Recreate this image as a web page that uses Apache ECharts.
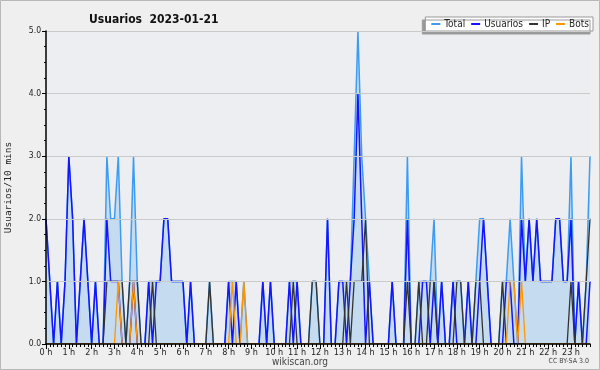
<!DOCTYPE html>
<html><head><meta charset="utf-8">
<script src="https://cdn.jsdelivr.net/npm/echarts@6/dist/echarts.min.js"></script>
<style>html,body{margin:0;padding:0;background:#efefef}#c{width:600px;height:370px}</style>
</head><body><div id="c"></div>
<script>
const hourLabels = ['0 h','1 h','2 h','3 h','4 h','5 h','6 h','7 h','8 h','9 h','10 h','11 h','12 h','13 h','14 h','15 h','16 h','17 h','18 h','19 h','20 h','21 h','22 h','23 h'];
const yTicks = [0, 1, 2, 3, 4, 5];
const total = [
 2,1,0,1,0,1,3,2,0,1, 2,1,0,1,0,0,3,2,2,3, 1,0,1,3,1,0,0,1,1,1, 1,2,2,1,1,1,1,0,1,0,
 0,0,0,1,0,0,0,0,1,1, 1,0,1,0,0,0,0,1,0,1, 0,0,0,0,1,1,1,0,0,0, 1,1,0,0,2,0,0,1,1,1,
 1,3,5,3,2,1,0,0,0,0, 0,1,0,0,0,3,0,0,1,1, 1,1,2,0,1,0,0,1,1,1, 0,1,0,1,2,2,1,0,0,0,
 1,1,2,1,0,3,1,2,1,2, 1,1,1,1,2,2,1,1,3,0, 1,0,1,3];
const usuarios = [
 2,1,0,1,0,1,3,2,0,1, 2,1,0,1,0,0,2,1,1,1, 0,0,0,1,0,0,0,1,0,1, 1,2,2,1,1,1,1,0,1,0,
 0,0,0,0,0,0,0,0,1,0, 1,0,0,0,0,0,0,1,0,1, 0,0,0,0,1,0,1,0,0,0, 0,0,0,0,2,0,0,1,1,0,
 1,2,4,2,0,1,0,0,0,0, 0,1,0,0,0,2,0,0,0,1, 1,0,1,0,1,0,0,1,0,0, 0,1,0,0,1,2,1,0,0,0,
 0,1,1,0,0,2,1,2,1,2, 1,1,1,1,2,2,1,1,2,0, 1,0,0,1];
const ip = [
 0,0,0,0,0,0,0,0,0,0, 0,0,0,0,0,0,1,1,1,1, 1,0,1,1,1,0,0,0,1,0, 0,0,0,0,0,0,0,0,0,0,
 0,0,0,1,0,0,0,0,0,0, 0,0,0,0,0,0,0,0,0,0, 0,0,0,0,0,1,0,0,0,0, 1,1,0,0,0,0,0,0,0,1,
 0,1,1,1,2,0,0,0,0,0, 0,0,0,0,0,1,0,0,1,0, 0,1,1,0,0,0,0,0,1,1, 0,0,0,1,1,0,0,0,0,0,
 1,0,0,0,0,0,0,0,0,0, 0,0,0,0,0,0,0,0,1,0, 0,0,1,2];
const bots = [
 0,0,0,0,0,0,0,0,0,0, 0,0,0,0,0,0,0,0,0,1, 0,0,0,1,0,0,0,0,0,0, 0,0,0,0,0,0,0,0,0,0,
 0,0,0,0,0,0,0,0,0,1, 0,0,1,0,0,0,0,0,0,0, 0,0,0,0,0,0,0,0,0,0, 0,0,0,0,0,0,0,0,0,0,
 0,0,0,0,0,0,0,0,0,0, 0,0,0,0,0,0,0,0,0,0, 0,0,0,0,0,0,0,0,0,0, 0,0,0,0,0,0,0,0,0,0,
 0,0,1,1,0,1,0,0,0,0, 0,0,0,0,0,0,0,0,0,0, 0,0,0,0];

const categories = [];
for (let i = 0; i < total.length; i++) {
  const h = Math.floor(i / 6), m = (i % 6) * 10;
  categories.push(h + ':' + (m < 10 ? '0' : '') + m);
}
const FONT = "'DejaVu Sans Condensed', 'DejaVu Sans', sans-serif";
const chart = echarts.init(document.getElementById('c'), null, {renderer: 'canvas'});
const lineSeries = (name, data, color, width, extra) => Object.assign({
  name, type: 'line', data, symbol: 'none', animation: false,
  lineStyle: {color, width}, itemStyle: {color}
}, extra || {});

chart.setOption({
  backgroundColor: '#efefef',
  animation: false,
  title: {
    text: 'Usuarios  2023-01-21', left: 84, top: 9,
    textStyle: {fontFamily: FONT, fontSize: 12, fontWeight: 'bold', color: '#111'}
  },
  legend: {
    right: 7, top: 17, icon: 'rect', itemWidth: 9, itemHeight: 2, itemGap: 6,
    backgroundColor: '#fff', borderColor: '#999', borderWidth: 1, padding: [2, 4, 2, 6],
    shadowColor: '#9a9a9a', shadowOffsetX: -3, shadowOffsetY: 3, shadowBlur: 0,
    textStyle: {fontFamily: FONT, fontSize: 10, color: '#222', padding: [0, 0, 0, -1]},
    data: ['Total', 'Usuarios', 'IP', 'Bots']
  },
  grid: {left: 46, right: 10, top: 31, bottom: 26, show: true, backgroundColor: '#eceef1', borderWidth: 0,
         containLabel: false, outerBoundsMode: 'none'},
  xAxis: [{
    type: 'category', data: categories, boundaryGap: false, z: 10,
    axisLine: {lineStyle: {color: '#000', width: 1.5}},
    axisTick: {show: true, interval: 0, length: 3, lineStyle: {color: '#000'}},
    axisLabel: {
      interval: (idx) => idx % 6 === 0,
      formatter: (v, idx) => hourLabels[idx / 6] || '',
      fontFamily: FONT, fontSize: 9, color: '#222', margin: 4
    },
    splitLine: {show: false}
  }, {
    type: 'category', data: categories, boundaryGap: false, position: 'bottom', z: 10,
    axisLine: {show: false},
    axisTick: {show: true, interval: (idx) => idx % 6 === 0, length: 5, lineStyle: {color: '#000'}},
    axisLabel: {show: false}, splitLine: {show: false}
  }],
  yAxis: {
    type: 'value', min: yTicks[0], max: yTicks[yTicks.length - 1], interval: 1, z: 10,
    name: 'Usuarios/10 mins', nameLocation: 'middle', nameRotate: 90, nameGap: 32,
    nameTextStyle: {fontFamily: "'DejaVu Sans Mono', monospace", fontSize: 9.5, color: '#222'},
    axisLine: {show: true, lineStyle: {color: '#000', width: 1.5}},
    axisTick: {show: true, length: 4, lineStyle: {color: '#000'}},
    minorTick: {show: true, splitNumber: 4, length: 2, lineStyle: {color: '#000'}},
    axisLabel: {formatter: (v) => v.toFixed(1), fontFamily: FONT, fontSize: 8.5, color: '#222', margin: 5},
    splitLine: {show: true, lineStyle: {color: '#cacaca', width: 1}}
  },
  series: [
    lineSeries('Total', total, '#3d9cf2', 1.5, {areaStyle: {color: '#c5dcf0', opacity: 1}}),
    lineSeries('Usuarios', usuarios, '#1414ff', 1.5),
    lineSeries('IP', ip, '#333333', 1.3),
    lineSeries('Bots', bots, '#ff9500', 1.3)
  ],
  graphic: [
    {type: 'rect', shape: {x: 0.5, y: 0.5, width: 599, height: 369}, style: {fill: 'none', stroke: '#b8b8b8', lineWidth: 1}, silent: true},
    {type: 'text', left: 'center', top: 357, style: {text: 'wikiscan.org', font: "10px " + FONT, fill: '#444'}},
    {type: 'text', right: 11, top: 358, style: {text: 'CC BY-SA 3.0', font: "7px " + FONT, fill: '#444'}}
  ]
});
</script></body></html>
